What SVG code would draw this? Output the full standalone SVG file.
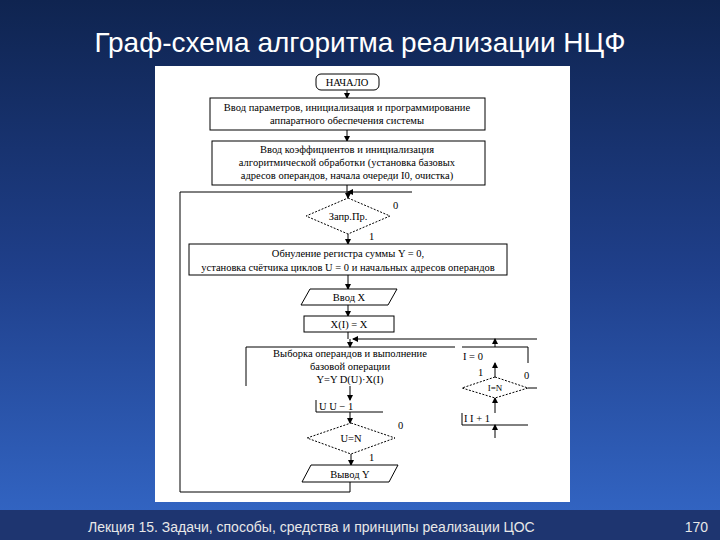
<svg xmlns="http://www.w3.org/2000/svg" width="720" height="540" viewBox="0 0 720 540">
<defs>
<linearGradient id="bg" x1="0" y1="0" x2="0" y2="1"><stop offset="0" stop-color="#0f2450"/><stop offset="0.5" stop-color="#1f3f8a"/><stop offset="1" stop-color="#3468c8"/></linearGradient>
<marker id="ar" markerWidth="6" markerHeight="6" refX="5" refY="3" orient="auto"><path d="M0,0 L6,3 L0,6 z" fill="#000"/></marker>
<style>
.s{fill:none;stroke:#000;stroke-width:1}
.w{fill:#fff;stroke:#000;stroke-width:1}
.d{fill:#fff;stroke:#000;stroke-width:1;stroke-dasharray:2,1.5}
.c{stroke:#000;stroke-width:1;fill:none}
.a{stroke:#000;stroke-width:1;fill:none;marker-end:url(#ar)}
text{font-family:"Liberation Serif",serif;font-size:10.5px;fill:#000}
.m{text-anchor:middle}
</style>
</defs>
<rect width="720" height="540" fill="url(#bg)"/>
<rect x="0" y="510" width="720" height="30" fill="#1e3570"/>
<text x="360" y="52" class="m" style="font-family:'Liberation Sans',sans-serif;font-size:28px;fill:#fff">Граф-схема алгоритма реализации НЦФ</text>
<text x="88" y="532" style="font-family:'Liberation Sans',sans-serif;font-size:14px;fill:#e8e8e8">Лекция 15. Задачи, способы, средства и принципы реализации ЦОС</text>
<text x="708" y="532" style="font-family:'Liberation Sans',sans-serif;font-size:14px;fill:#e8e8e8;text-anchor:end">170</text>
<rect x="155" y="66" width="415" height="436" fill="#fff"/>

<g id="connectors">
<path class="a" d="M347,90 V98"/>
<path class="a" d="M347,130 V141"/>
<path class="c" d="M347,185 V194"/>
<path class="c" d="M180,192 H412"/>
<path class="a" d="M352,192 H348"/>
<path class="a" d="M348,192 V198"/>
<path class="a" d="M348,234 V244"/>
<path class="a" d="M348,275 V289"/>
<path class="a" d="M348,305 V316"/>
<path class="c" d="M348,332 V339"/>
<path class="a" d="M537,339 H353"/>
<path class="a" d="M350,339 V347"/>
<path class="a" d="M350,386 V400"/>
<path class="a" d="M350,412 V423"/>
<path class="a" d="M351,454 V465"/>
<path class="c" d="M350,482 V492 H180 V192"/>
<path class="a" d="M495,347 V339"/>
<path class="a" d="M495,377 V363"/>
<path class="a" d="M495,413 V398"/>
<path class="a" d="M495,438 V425"/>
<path class="c" d="M528,388 H537"/>
</g>

<g id="start"><rect class="w" x="316" y="74" width="63" height="16" rx="5"/><text x="347" y="86" class="m">НАЧАЛО</text></g>
<g id="init-hw"><rect class="w" x="210" y="98" width="275" height="32"/><text x="347" y="111" class="m">Ввод параметров, инициализация и программирование</text><text x="347" y="124" class="m">аппаратного обеспечения системы</text></g>
<g id="init-coef"><rect class="w" x="212" y="141" width="273" height="44"/><text x="347" y="153" class="m">Ввод коэффициентов и инициализация</text><text x="347" y="166" class="m">алгоритмической обработки (установка базовых</text><text x="347" y="179" class="m">адресов операндов, начала очереди I0, очистка)</text></g>
<g id="req"><polygon class="d" points="348,198 390,216 348,234 306,216"/><text x="348" y="220" class="m">Запр.Пр.</text><text x="393" y="209">0</text><text x="369" y="240">1</text></g>
<g id="reset"><rect class="w" x="189" y="244" width="318" height="31"/><text x="348" y="257" class="m">Обнуление регистра суммы  Y = 0,</text><text x="348" y="271" class="m">установка счётчика  циклов U = 0 и начальных адресов операндов</text></g>
<g id="input"><polygon class="w" points="310,289 397,289 388,305 301,305"/><text x="349" y="301" class="m">Ввод X</text></g>
<g id="store"><rect class="w" x="304" y="316" width="90" height="16"/><text x="349" y="328" class="m">X(I)  =  X</text></g>
<g id="op"><path class="s" d="M246,386 V347 H455"/><text x="350" y="357" class="m">Выборка операндов и выполнение</text><text x="350" y="370" class="m">базовой операции</text><text x="350" y="383" class="m">Y=Y  D(U)·X(I)</text></g>
<g id="dec"><path class="s" d="M316,400 V412 H383"/><text x="319" y="410">U    U − 1</text></g>
<g id="cmpU"><polygon class="d" points="351,423 395,438 351,454 307,438"/><text x="351" y="442" class="m">U=N</text><text x="398" y="429">0</text><text x="369" y="461">1</text></g>
<g id="output"><polygon class="w" points="311,465 398,465 389,482 302,482"/><text x="350" y="478" class="m">Вывод Y</text></g>
<g id="setI"><path class="s" d="M462,347 H528 V363"/><text x="463" y="360">I = 0</text></g>
<g id="cmpI"><polygon class="d" points="495,377 528,388 495,398 462,388"/><text x="495" y="391" class="m" style="font-size:9px">I=N</text><text x="478" y="376">1</text><text x="524" y="379">0</text></g>
<g id="incI"><path class="s" d="M462,413 V425 H528"/><text x="464" y="422">I    I + 1</text></g>
</svg>
